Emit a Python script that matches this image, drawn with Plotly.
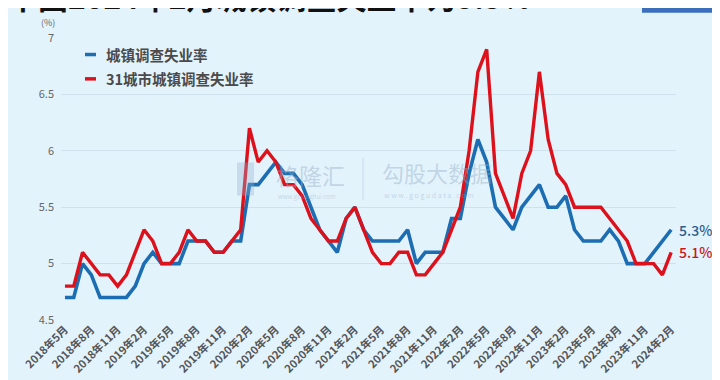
import plotly.graph_objects as go

# ---------------- data ----------------
months = [f"{y}年{m}月" for y in range(2018, 2025) for m in range(1, 13)][4:74]

tick_labels = ["2018年5月", "2018年8月", "2018年11月", "2019年2月", "2019年5月", "2019年8月",
               "2019年11月", "2020年2月", "2020年5月", "2020年8月", "2020年11月", "2021年2月",
               "2021年5月", "2021年8月", "2021年11月", "2022年2月", "2022年5月", "2022年8月",
               "2022年11月", "2023年2月", "2023年5月", "2023年8月", "2023年11月", "2024年2月"]

y_ticks = [4.5, 5, 5.5, 6, 6.5, 7]
y_tick_text = ["4.5", "5", "5.5", "6", "6.5", "7"]

urban_name = "城镇调查失业率"
urban = [4.7, 4.7, 5.0, 4.9, 4.7, 4.7, 4.7, 4.7, 4.8, 5.0,
         5.1, 5.0, 5.0, 5.0, 5.2, 5.2, 5.2, 5.1, 5.1, 5.2,
         5.2, 5.7, 5.7, 5.8, 5.9, 5.8, 5.8, 5.7, 5.5, 5.3,
         5.2, 5.1, 5.4, 5.5, 5.3, 5.2, 5.2, 5.2, 5.2, 5.3,
         5.0, 5.1, 5.1, 5.1, 5.4, 5.4, 5.8, 6.1, 5.9, 5.5,
         5.4, 5.3, 5.5, 5.6, 5.7, 5.5, 5.5, 5.6, 5.3, 5.2,
         5.2, 5.2, 5.3, 5.2, 5.0, 5.0, 5.0, 5.1, 5.2, 5.3]

city_name = "31城市城镇调查失业率"
city31 = [4.8, 4.8, 5.1, 5.0, 4.9, 4.9, 4.8, 4.9, 5.1, 5.3,
          5.2, 5.0, 5.0, 5.1, 5.3, 5.2, 5.2, 5.1, 5.1, 5.2,
          5.3, 6.2, 5.9, 6.0, 5.9, 5.7, 5.7, 5.6, 5.4, 5.3,
          5.2, 5.2, 5.4, 5.5, 5.3, 5.1, 5.0, 5.0, 5.1, 5.1,
          4.9, 4.9, 5.0, 5.1, 5.3, 5.5, 6.0, 6.7, 6.9, 5.8,
          5.6, 5.4, 5.8, 6.0, 6.7, 6.1, 5.8, 5.7, 5.5, 5.5,
          5.5, 5.5, 5.4, 5.3, 5.2, 5.0, 5.0, 5.0, 4.9, 5.1]

title_text = "中国2024年2月城镇调查失业率为5.3%"

# ---------------- style ----------------
BG = "#e3f3fc"
BLUE = "#1c6db2"
RED = "#dc111b"
FONT = "Noto Sans CJK SC"

W, H = 720, 380
L, R, T, B = 53, 52, 30, 60
PW, PH = W - L - R, H - T - B


def px(x):
    return (x - L) / PW


def py(y):
    return (H - B - y) / PH


fig = go.Figure()
fig.add_trace(go.Scatter(x=months, y=urban, mode="lines", name=urban_name,
                         line=dict(color=BLUE, width=3.6), hoverinfo="x+y"))
fig.add_trace(go.Scatter(x=months, y=city31, mode="lines", name=city_name,
                         line=dict(color=RED, width=3.4), hoverinfo="x+y"))

ann = []
shapes = []

# custom legend
for yy, col, name in [(47, BLUE, urban_name), (72, RED, city_name)]:
    shapes.append(dict(type="line", xref="paper", yref="paper",
                       x0=px(77), x1=px(88), y0=py(yy), y1=py(yy),
                       line=dict(color=col, width=3.5)))
    ann.append(dict(xref="paper", yref="paper", x=px(96), y=py(yy), xanchor="left",
                    yanchor="middle", showarrow=False, text=name,
                    font=dict(family=FONT, size=14.5, color="#4a4a4a", weight="bold")))

# end labels
ann.append(dict(x=months[-1], y=urban[-1], xanchor="left", yanchor="middle", xshift=6,
                showarrow=False, text=f"{urban[-1]}%",
                font=dict(family=FONT, size=14, color="#2d5e8e", weight=500)))
ann.append(dict(x=months[-1], y=city31[-1], xanchor="left", yanchor="middle", xshift=6,
                showarrow=False, text=f"{city31[-1]}%",
                font=dict(family=FONT, size=14, color="#cc1620", weight=500)))

# unit label
ann.append(dict(xref="paper", yref="paper", x=px(40), y=py(14), xanchor="center",
                yanchor="middle", showarrow=False, text="(%)",
                font=dict(family=FONT, size=9, color="#666666")))

# title (cut off at top)
ann.append(dict(xref="paper", yref="paper", x=px(-2), y=py(11), xanchor="left",
                yanchor="bottom", showarrow=False, text=title_text,
                font=dict(family=FONT, size=30, color="#111111", weight="bold")))
shapes.append(dict(type="rect", xref="paper", yref="paper",
                   x0=px(634), x1=px(709), y0=py(4), y1=py(-20),
                   fillcolor="#3b6fbe", line=dict(width=0)))

# watermarks
WM = "rgba(150,175,200,0.45)"
shapes.append(dict(type="rect", xref="paper", yref="paper",
                   x0=px(229), x1=px(246), y0=py(192), y1=py(158),
                   fillcolor="rgba(150,175,205,0.35)", line=dict(width=0)))
ann.append(dict(xref="paper", yref="paper", x=px(266), y=py(171), xanchor="left",
                yanchor="middle", showarrow=False, text="格隆汇",
                font=dict(family=FONT, size=23, color=WM)))
ann.append(dict(xref="paper", yref="paper", x=px(268), y=py(193), xanchor="left",
                yanchor="middle", showarrow=False, text="www.gelonghui.com",
                font=dict(family=FONT, size=6, color=WM)))
shapes.append(dict(type="line", xref="paper", yref="paper",
                   x0=px(355), x1=px(355), y0=py(153), y1=py(197),
                   line=dict(color="rgba(150,175,200,0.35)", width=1)))
ann.append(dict(xref="paper", yref="paper", x=px(372), y=py(168), xanchor="left",
                yanchor="middle", showarrow=False, text="勾股大数据",
                font=dict(family=FONT, size=22, color=WM)))
ann.append(dict(xref="paper", yref="paper", x=px(374), y=py(191), xanchor="left",
                yanchor="middle", showarrow=False, text="w w w . g o g u d a t a . c o m",
                font=dict(family=FONT, size=7, color=WM)))

fig.update_layout(
    width=W, height=H,
    margin=dict(l=L, r=R, t=T, b=B, pad=0),
    paper_bgcolor=BG, plot_bgcolor=BG,
    showlegend=False,
    font=dict(family=FONT),
    annotations=ann,
    shapes=shapes,
    xaxis=dict(type="category", tickmode="array", tickvals=tick_labels, ticktext=tick_labels,
               tickangle=-45, range=[-0.45, len(months) - 0.45],
               showgrid=False, zeroline=False, showline=False, ticks="",
               tickfont=dict(family=FONT, size=11, color="#555555", weight="bold")),
    yaxis=dict(range=[4.5, 7], tickmode="array", tickvals=y_ticks, ticktext=y_tick_text,
               showgrid=True, gridcolor="#cfe1ec", gridwidth=1, zeroline=False,
               showline=False, ticks="", ticklabelstandoff=6,
               tickfont=dict(family=FONT, size=11, color="#666666")),
)

fig.write_html("out.html")
